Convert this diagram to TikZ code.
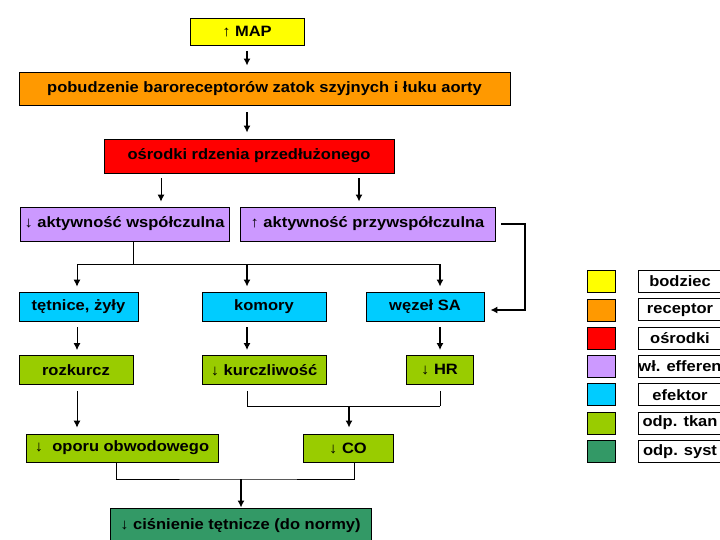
\documentclass[tikz,border=0pt]{standalone}
\usepackage{fontspec}
\setmainfont[FakeStretch=1.1]{Liberation Sans}
\usepackage{xcolor}
\usepackage{tikz}
\usetikzlibrary{arrows.meta,positioning,calc}
\definecolor{stimyellow}{HTML}{FFFF00}
\definecolor{recorange}{HTML}{FF9900}
\definecolor{ctrred}{HTML}{FF0000}
\definecolor{effpurple}{HTML}{CC99FF}
\definecolor{effblue}{HTML}{00CCFF}
\definecolor{tisgreen}{HTML}{99CC00}
\definecolor{sysgreen}{HTML}{339966}
\newcommand{\uparr}{{\mdseries ↑}}
\newcommand{\dnarr}{{\mdseries ↓}}
\tikzset{
  block/.style={draw, line width=0.8pt, inner sep=0pt, minimum height=29pt,
                align=center, font=\fontsize{15}{17}\selectfont\bfseries},
  stimbox/.style={block, fill=stimyellow},
  recbox/.style={block, fill=recorange},
  ctrbox/.style={block, fill=ctrred},
  effbox/.style={block, fill=effpurple},
  effectbox/.style={block, fill=effblue},
  tissuebox/.style={block, fill=tisgreen},
  sysbox/.style={block, fill=sysgreen},
  swatch/.style={draw, line width=0.6pt, minimum width=28pt, minimum height=22pt, inner sep=0pt},
  keybox/.style={block, fill=white, minimum width=84pt, minimum height=22pt},
  arrow/.style={-{Latex[length=7pt,width=7pt]}, line width=1pt},
  thickarrow/.style={arrow, line width=1.8pt},
  link/.style={line width=1pt}
}
\begin{document}
\begin{tikzpicture}[x=1pt,y=-1pt]
  \useasboundingbox (0,0) rectangle (720,540);
  \clip (0,0) rectangle (720,540);
  \node[stimbox, minimum width=114pt, minimum height=27pt] (map) at (247,32) {\uparr\ MAP};
  \node[recbox, minimum width=491pt, minimum height=33pt] (baro) at (264.5,88.5) {pobudzenie baroreceptorów zatok szyjnych i łuku aorty};
  \node[ctrbox, minimum width=290pt, minimum height=34pt] (osr) at (249,156) {ośrodki rdzenia przedłużonego};
  \node[effbox, minimum width=209pt, minimum height=34pt] (symp) at (124.5,224) {\dnarr\ aktywność współczulna};
  \node[effbox, minimum width=255pt, minimum height=34pt] (para) at (367.5,224) {\uparr\ aktywność przywspółczulna};
  \node[effectbox, minimum width=119pt] (tet) at (78.5,306.5) {tętnice, żyły};
  \node[effectbox, minimum width=124pt] (kom) at (264,306.5) {komory};
  \node[effectbox, minimum width=118pt] (sa) at (425,306.5) {węzeł SA};
  \node[tissuebox, minimum width=114pt] (roz) at (76,370) {rozkurcz};
  \node[tissuebox, minimum width=124pt] (kur) at (264,370) {\dnarr\ kurczliwość};
  \node[tissuebox, minimum width=67pt] (hr) at (439.5,370) {\dnarr\ HR};
  \node[tissuebox, minimum width=192pt, minimum height=28pt] (opor) at (122,448) {\dnarr\ \ oporu obwodowego};
  \node[tissuebox, minimum width=90pt, minimum height=28pt] (co) at (348,448) {\dnarr\ CO};
  \node[sysbox, minimum width=261pt, minimum height=36pt] (cis) at (240.5,526) {\dnarr\ ciśnienie tętnicze (do normy)};

  % legend
  \foreach \col/\txt [count=\i from 0] in {stimyellow/bodziec, recorange/receptor,
      ctrred/ośrodki, effpurple/wł. efferen, effblue/efektor, tisgreen/odp. tkan, sysgreen/odp. syst} {
    \node[swatch, fill=\col] (sw\i) at (601,281.5+28.3*\i) {};
    \node[keybox] (key\i) at (680,281.5+28.3*\i) {\txt};
  }

  % columns and junctions
  \coordinate (sx) at (161,0);
  \coordinate (px) at (359,0);
  \coordinate (c1) at (77,0);
  \coordinate (c2) at (247,0);
  \coordinate (c3) at (440,0);
  \coordinate (split) at (133,264);
  \coordinate (fb) at (525,310);
  \coordinate (join) at (349,406);
  \coordinate (merge) at (241,479);

  \draw[thickarrow, shorten <=5pt, shorten >=6pt] (map.south) -- (map.south |- baro.north);
  \draw[thickarrow, shorten <=7pt, shorten >=6pt] (baro.south -| map) -- (osr.north -| map);
  \draw[arrow, shorten <=5pt, shorten >=5pt] (osr.south -| sx) -- (symp.north -| sx);
  \draw[thickarrow, shorten <=5pt, shorten >=5pt] (osr.south -| px) -- (para.north -| px);
  \draw[thickarrow, shorten <=6pt, shorten >=6pt] (para.east) -| (fb) -- (fb -| sa.east);

  \draw[link] (symp.south -| split) -- (split);
  \draw[link] (split -| c1) -- (split -| c3);
  \foreach \c/\n/\s in {c1/tet/arrow, c2/kom/thickarrow, c3/sa/thickarrow}
    \draw[\s, shorten >=5pt] (split -| \c) -- (\n.north -| \c);
  \foreach \c/\u/\v/\s in {c1/tet/roz/arrow, c2/kom/kur/thickarrow, c3/sa/hr/thickarrow}
    \draw[\s, shorten <=6pt, shorten >=5pt] (\u.south -| \c) -- (\v.north -| \c);

  \draw[arrow, shorten <=6pt, shorten >=6pt] (roz.south -| c1) -- (opor.north -| c1);
  \draw[link, shorten <=6pt] (kur.south -| c2) -- (join -| c2) -- (join -| c3);
  \draw[link, shorten <=6pt] (hr.south -| c3) -- (join -| c3);
  \draw[thickarrow, shorten >=6pt] (join) -- (co.north -| join);

  \draw[link] ([xshift=-6pt]opor.south) |- (merge) -| ([xshift=6pt]co.south);
  \draw[thickarrow] (merge) -- (cis.north -| merge);
\end{tikzpicture}
\end{document}
